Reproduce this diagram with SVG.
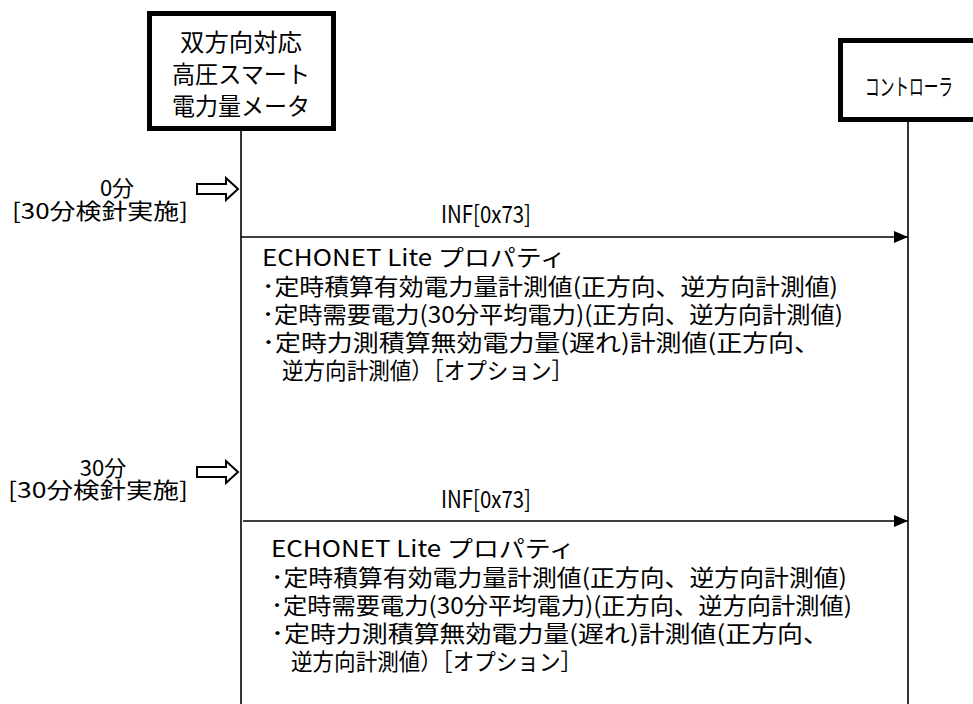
<svg xmlns="http://www.w3.org/2000/svg" width="973" height="704" viewBox="0 0 973 704">
<style>
text{font-family:"Noto Sans CJK JP","Noto Sans",sans-serif;fill:#000}
.box{fill:#fff;stroke:#000;stroke-width:5}
.life{stroke:#000;stroke-width:1.6;fill:none}
.msg{stroke:#000;stroke-width:1.6;fill:none}
.hollow{fill:#fff;stroke:#000;stroke-width:2}
.hd{font-size:24px}
.b{font-size:23px}
.lb{font-size:22px}
.inf{font-size:24px}
</style>
<defs>
<marker id="ah" markerWidth="14" markerHeight="12" refX="14" refY="6" orient="auto" markerUnits="userSpaceOnUse">
<path d="M0,0 L14,6 L0,12 Z" fill="#000"/>
</marker>
</defs>
<rect width="973" height="704" fill="#fff"/>
<g id="connectors">
<line class="life" x1="241" y1="128" x2="241" y2="704"/>
<line class="life" x1="908" y1="120" x2="908" y2="704"/>
<line class="msg" x1="241" y1="237" x2="908" y2="237" marker-end="url(#ah)"/>
<line class="msg" x1="243" y1="521" x2="908" y2="521" marker-end="url(#ah)"/>
<polygon class="hollow" points="197,184 226,184 226,178 238,189 226,200 226,194 197,194"/>
<polygon class="hollow" points="197,467 226,467 226,461 238,472 226,483 226,477 197,477"/>
</g>
<g id="meter">
<rect class="box" x="149.5" y="13.5" width="184" height="115"/>
<text class="hd" x="241" y="51" text-anchor="middle" textLength="122" lengthAdjust="spacingAndGlyphs">双方向対応</text>
<text class="hd" x="241" y="83" text-anchor="middle" textLength="138" lengthAdjust="spacingAndGlyphs">高圧スマート</text>
<text class="hd" x="241" y="115" text-anchor="middle" textLength="138" lengthAdjust="spacingAndGlyphs">電力量メータ</text>
</g>
<g id="controller">
<rect class="box" x="840.5" y="40.5" width="140" height="79"/>
<text x="909" y="95" font-size="23" text-anchor="middle" textLength="88" lengthAdjust="spacingAndGlyphs">コントローラ</text>
</g>
<g id="label1">
<text class="lb" x="117" y="196" text-anchor="middle">0分</text>
<text class="lb" x="12" y="219" textLength="176" lengthAdjust="spacingAndGlyphs">[30分検針実施]</text>
</g>
<g id="label2">
<text class="lb" x="103" y="476" text-anchor="middle">30分</text>
<text class="lb" x="8" y="498" textLength="180" lengthAdjust="spacingAndGlyphs">[30分検針実施]</text>
</g>
<g id="msg1">
<text class="inf" x="441" y="223" textLength="90" lengthAdjust="spacingAndGlyphs">INF[0x73]</text>
<text class="b" x="262" y="266" textLength="304" lengthAdjust="spacingAndGlyphs">ECHONET Lite プロパティ</text>
<text class="b" x="262" y="295" textLength="576" lengthAdjust="spacingAndGlyphs">･定時積算有効電力量計測値(正方向、逆方向計測値)</text>
<text class="b" x="262" y="323" textLength="581" lengthAdjust="spacingAndGlyphs">･定時需要電力(30分平均電力)(正方向、逆方向計測値)</text>
<text class="b" x="262" y="351" textLength="558" lengthAdjust="spacingAndGlyphs">･定時力測積算無効電力量(遅れ)計測値(正方向、</text>
<text class="b" x="282" y="379" textLength="291" lengthAdjust="spacingAndGlyphs">逆方向計測値）［オプション］</text>
</g>
<g id="msg2">
<text class="inf" x="441" y="508" textLength="90" lengthAdjust="spacingAndGlyphs">INF[0x73]</text>
<text class="b" x="271" y="557" textLength="304" lengthAdjust="spacingAndGlyphs">ECHONET Lite プロパティ</text>
<text class="b" x="271" y="586" textLength="576" lengthAdjust="spacingAndGlyphs">･定時積算有効電力量計測値(正方向、逆方向計測値)</text>
<text class="b" x="271" y="614" textLength="581" lengthAdjust="spacingAndGlyphs">･定時需要電力(30分平均電力)(正方向、逆方向計測値)</text>
<text class="b" x="271" y="642" textLength="558" lengthAdjust="spacingAndGlyphs">･定時力測積算無効電力量(遅れ)計測値(正方向、</text>
<text class="b" x="291" y="670" textLength="291" lengthAdjust="spacingAndGlyphs">逆方向計測値）［オプション］</text>
</g>
</svg>
